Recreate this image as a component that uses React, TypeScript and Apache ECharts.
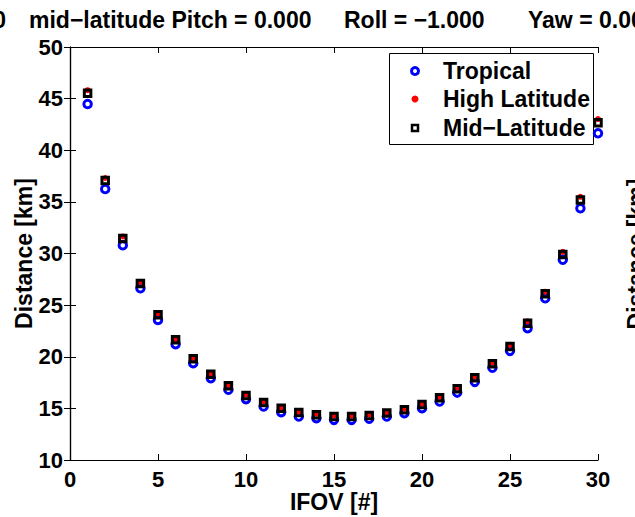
import { useEffect, useRef } from "react";
import * as echarts from "echarts";

const ifov = [1, 2, 3, 4, 5, 6, 7, 8, 9, 10, 11, 12, 13, 14, 15, 16, 17, 18, 19, 20, 21, 22, 23, 24, 25, 26, 27, 28, 29, 30];
const tropical = [44.48, 36.25, 30.8, 26.64, 23.57, 21.22, 19.38, 17.93, 16.8, 15.9, 15.18, 14.64, 14.21, 14.06, 13.89, 13.89, 14.0, 14.21, 14.54, 15.02, 15.66, 16.53, 17.57, 18.93, 20.57, 22.77, 25.67, 29.4, 34.38, 41.64];
const midLatitude = [45.52, 37.06, 31.45, 27.1, 24.06, 21.64, 19.8, 18.31, 17.18, 16.25, 15.57, 15.02, 14.6, 14.38, 14.21, 14.21, 14.31, 14.54, 14.86, 15.37, 16.02, 16.89, 17.96, 19.31, 20.99, 23.25, 26.09, 29.9, 35.19, 42.67];
const highLatitude = [45.82, 37.31, 31.65, 27.25, 24.2, 21.75, 19.9, 18.41, 17.28, 16.35, 15.67, 15.12, 14.7, 14.48, 14.31, 14.31, 14.41, 14.64, 14.96, 15.47, 16.12, 17.0, 18.08, 19.45, 21.15, 23.43, 26.3, 30.15, 35.49, 43.02];
const seriesNames = ["Tropical", "High Latitude", "Mid\u2212Latitude"];
const xRange = { min: 0, max: 30, interval: 5 };
const yRange = { min: 10, max: 50, interval: 5 };
const titleParts = ["0", "mid\u2212latitude Pitch = 0.000", "Roll = \u22121.000", "Yaw = 0.000"];
const xName = "IFOV [#]";
const yName = "Distance [km]";

const FONT = "'Liberation Sans', Arial, Helvetica, sans-serif";

export default function App() {
  const ref = useRef<HTMLDivElement>(null);
  useEffect(() => {
    if (!ref.current) return;
    const chart = echarts.init(ref.current, null, { renderer: "svg" });
    const toPts = (arr: number[]) => arr.map((v, i) => [ifov[i], v]);
    const txt = { fontFamily: FONT, fontWeight: "bold" as const, fontSize: 23, color: "#000" };
    const axisCommon = {
      axisLine: { show: true, lineStyle: { color: "#000", width: 1.2 } },
      axisTick: { show: true, inside: true, length: 6, lineStyle: { color: "#000", width: 1 } },
      splitLine: { show: false },
    };
    chart.setOption({
      animation: false,
      backgroundColor: "#fff",
      grid: { left: 70, top: 47, right: 37, bottom: 57, containLabel: false, outerBoundsMode: "none" },
      xAxis: [
        {
          type: "value",
          position: "bottom",
          ...xRange,
          ...axisCommon,
          axisLabel: { ...txt, fontSize: 22, margin: 8 },
          name: xName,
          nameLocation: "middle",
          nameGap: 30,
          nameMoveOverlap: false,
          nameTextStyle: { ...txt },
        },
        {
          type: "value",
          position: "top",
          ...xRange,
          ...axisCommon,
          axisLabel: { show: false },
        },
      ],
      yAxis: [
        {
          type: "value",
          position: "left",
          ...yRange,
          ...axisCommon,
          axisLabel: { ...txt, fontSize: 22, margin: 7 },
          name: yName,
          nameLocation: "middle",
          nameGap: 35,
          nameMoveOverlap: false,
          nameTextStyle: { ...txt },
        },
        {
          type: "value",
          position: "right",
          ...yRange,
          ...axisCommon,
          axisLabel: { show: false },
        },
      ],
      series: [
        {
          name: seriesNames[0],
          type: "scatter",
          z: 3,
          data: toPts(tropical),
          symbol: "circle",
          symbolSize: 7.5,
          itemStyle: { color: "#fff", borderColor: "#0000ff", borderWidth: 3, opacity: 1 },
          emphasis: { disabled: true },
        },
        {
          name: seriesNames[1],
          type: "scatter",
          z: 3,
          data: toPts(highLatitude),
          symbol: "circle",
          symbolSize: 6,
          itemStyle: { color: "#ff0000", opacity: 1 },
          emphasis: { disabled: true },
        },
        {
          name: seriesNames[2],
          type: "scatter",
          z: 3,
          data: toPts(midLatitude),
          symbol: "rect",
          symbolSize: 6.5,
          itemStyle: { color: "rgba(0,0,0,0)", borderColor: "#000", borderWidth: 3, opacity: 1 },
          emphasis: { disabled: true },
        },
      ],
      graphic: [
        { type: "text", x: 6, y: 20, style: { text: titleParts[0], ...txt, fill: "#000", align: "right", verticalAlign: "middle" } },
        { type: "text", x: 29, y: 20, style: { text: titleParts[1], ...txt, fill: "#000", align: "left", verticalAlign: "middle" } },
        { type: "text", x: 344, y: 20, style: { text: titleParts[2], ...txt, fill: "#000", align: "left", verticalAlign: "middle" } },
        { type: "text", x: 528, y: 20, style: { text: titleParts[3], ...txt, fill: "#000", align: "left", verticalAlign: "middle" } },
        { type: "text", x: 636, y: 254, rotation: Math.PI / 2, style: { text: yName, ...txt, fill: "#000", align: "center", verticalAlign: "middle" } },
        {
          type: "group",
          z: 1,
          children: [
            { type: "rect", z: 1, shape: { x: 389.5, y: 53.5, width: 204, height: 91 }, style: { fill: "#fff", stroke: "#000", lineWidth: 1 } },
            { type: "circle", z: 1, shape: { cx: 415, cy: 71, r: 3.5 }, style: { fill: "#fff", stroke: "#0000ff", lineWidth: 3 } },
            { type: "circle", z: 1, shape: { cx: 415, cy: 99, r: 3.5 }, style: { fill: "#ff0000" } },
            { type: "rect", z: 1, shape: { x: 412, y: 125, width: 6, height: 6 }, style: { fill: "#fff", stroke: "#000", lineWidth: 2.5 } },
            { type: "text", z: 1, x: 443, y: 71, style: { text: seriesNames[0], ...txt, fill: "#000", align: "left", verticalAlign: "middle" } },
            { type: "text", z: 1, x: 443, y: 99, style: { text: seriesNames[1], ...txt, fill: "#000", align: "left", verticalAlign: "middle" } },
            { type: "text", z: 1, x: 443, y: 128, style: { text: seriesNames[2], ...txt, fill: "#000", align: "left", verticalAlign: "middle" } },
          ],
        },
      ],
    });
    return () => chart.dispose();
  }, []);
  return <div ref={ref} style={{ position: "fixed", left: 0, top: 0, width: 635, height: 517 }} />;
}
